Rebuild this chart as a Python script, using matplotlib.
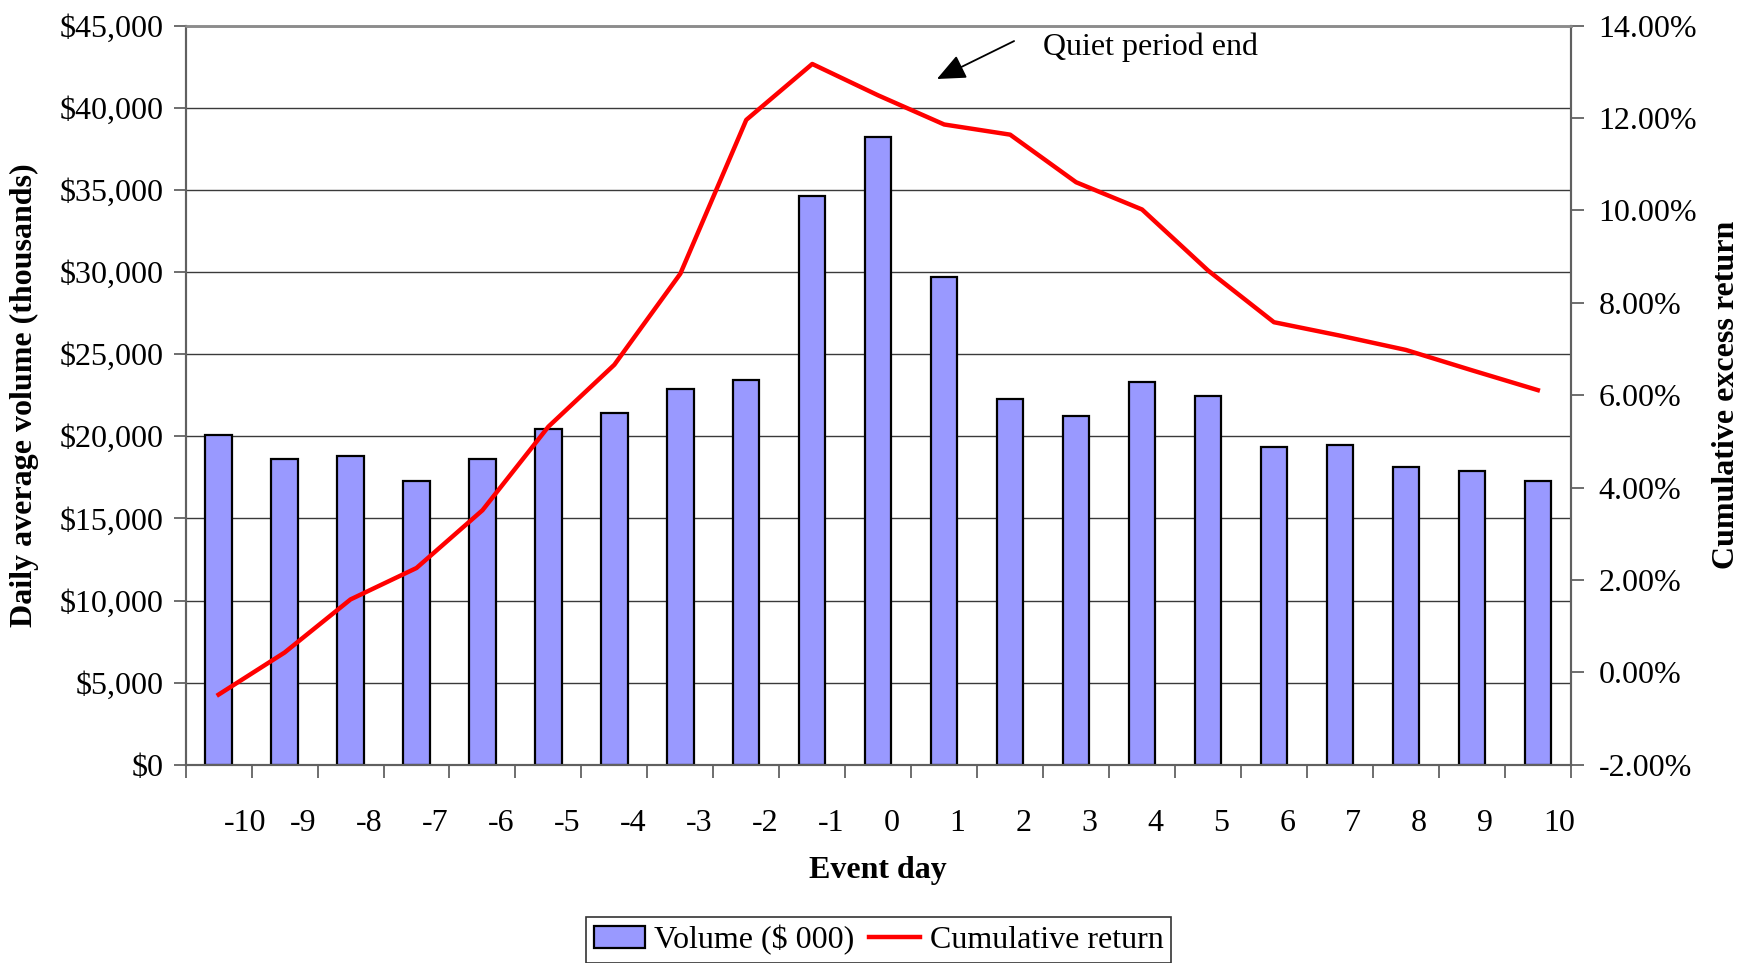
import matplotlib
matplotlib.use("Agg")
import matplotlib.pyplot as plt
from matplotlib.patches import Patch
from matplotlib.lines import Line2D
from matplotlib.ticker import FuncFormatter, FixedLocator

# Event days and series
days = list(range(-10, 11))
volume = [20050, 18600, 18820, 17280, 18600, 20430, 21440, 22890, 23440, 34650,
          38240, 29680, 22260, 21260, 23280, 22460, 19330, 19450, 18110, 17900, 17300]
cum_return = [-0.48, 0.43, 1.58, 2.26, 3.51, 5.32, 6.66, 8.63, 11.96, 13.17,
              12.49, 11.86, 11.64, 10.61, 10.02, 8.70, 7.58, 7.29, 6.98, 6.54, 6.11]

plt.rcParams["font.family"] = ["Liberation Serif", "DejaVu Serif"]
FS = 23

fig = plt.figure(figsize=(17.43, 9.63), dpi=100)
ax = fig.add_axes([0.1065, 0.2058, 0.7947, 0.7676])
ax2 = ax.twinx()

# Volume bars on the left axis
ax.bar(days, volume, width=0.40, color="#9999FF", edgecolor="black",
       linewidth=1.6, zorder=3)
ax.set_xlim(-10.5, 10.5)
ax.set_ylim(0, 45000)
ax.set_yticks(range(0, 45001, 5000))
ax.yaxis.set_major_formatter(FuncFormatter(lambda v, p: "${:,.0f}".format(v)))
ax.grid(axis="y", color="#3a3a3a", linewidth=1.0, zorder=0)
ax.set_axisbelow(True)

# x ticks: marks at category boundaries, labels slightly right of each bar
ax.xaxis.set_minor_locator(FixedLocator([d - 0.5 for d in days] + [10.5]))
ax.set_xticks([d + 0.08 for d in days])
ax.set_xticklabels([str(d) for d in days])
ax.tick_params(axis="x", which="major", length=0, pad=31.5, labelsize=FS)
ax.tick_params(axis="x", which="minor", length=9, width=1.2, color="#555555",
               direction="out")
for lbl in ax.get_xticklabels():
    lbl.set_ha("left")
ax.tick_params(axis="y", length=9, width=1.2, color="#555555", pad=7,
               labelsize=FS)

# Cumulative return line on the right axis
ax2.plot(days, cum_return, color="#FF0000", linewidth=3.2, zorder=4)
ax2.set_ylim(-2, 14)
ax2.set_yticks(range(-2, 15, 2))
ax2.yaxis.set_major_formatter(FuncFormatter(lambda v, p: "{:.2f}%".format(v)))
ax2.tick_params(axis="y", length=9, width=1.2, color="#555555", pad=11,
                labelsize=FS)

for a in (ax, ax2):
    for side in ("left", "right", "bottom"):
        a.spines[side].set_color("#606060")
        a.spines[side].set_linewidth(1.5)
    a.spines["top"].set_color("#8c8c8c")
    a.spines["top"].set_linewidth(1.8)

ax.set_xlabel("Event day", fontsize=FS, fontweight="bold")
ax.xaxis.set_label_coords(0.5, -0.124)
ax.set_ylabel("Daily average volume (thousands)", fontsize=FS, fontweight="bold")
ax.yaxis.set_label_coords(-0.1058, 0.5)
ax2.set_ylabel("Cumulative excess return", fontsize=FS, fontweight="bold",
               rotation=90)
ax2.yaxis.set_label_coords(1.102, 0.5)

# Quiet period annotation
ax.annotate("", xy=(0.89, 41750), xytext=(2.06, 44060),
            arrowprops=dict(arrowstyle="-|>,head_length=0.8,head_width=0.35",
                            mutation_scale=22, color="black", lw=1.3,
                            shrinkA=0, shrinkB=0), zorder=6)
ax.text(2.5, 43680, "Quiet period end", fontsize=FS, ha="left", va="center",
        zorder=6)

handles = [Patch(facecolor="#9999FF", edgecolor="black", linewidth=1.6),
           Line2D([0], [0], color="#FF0000", linewidth=3.2)]
leg = fig.legend(handles, ["Volume ($ 000)", "Cumulative return"], ncol=2,
                 loc="upper center", bbox_to_anchor=(0.504, 0.0478),
                 fontsize=FS, frameon=True, fancybox=False, shadow=False,
                 handlelength=1.6, handletextpad=0.3, columnspacing=0.45,
                 borderpad=0.25, borderaxespad=0)
leg.get_frame().set_edgecolor("black")
leg.get_frame().set_linewidth(1.2)

fig.savefig("out.png", dpi=100)
